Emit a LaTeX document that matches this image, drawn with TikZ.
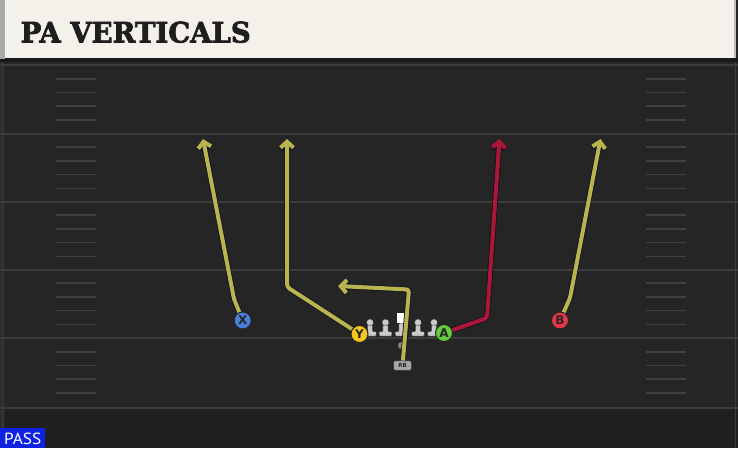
\documentclass[tikz,border=0pt]{standalone}
\usepackage{fontspec}
\setmainfont{DejaVu Sans}
\newfontfamily\titlefont{DejaVu Serif}[BoldFeatures={FakeBold=2.5}]
\newfontfamily\passfont{PT Sans}
\usetikzlibrary{arrows.meta}
\definecolor{bg}{RGB}{37,37,37}
\definecolor{bgdark}{RGB}{31,31,31}
\definecolor{stripc}{RGB}{44,44,44}
\definecolor{yardc}{RGB}{60,60,60}
\definecolor{hashc}{RGB}{64,64,64}
\definecolor{beige}{RGB}{244,241,234}
\definecolor{headgray}{RGB}{168,170,166}
\definecolor{titlec}{RGB}{30,30,30}
\definecolor{passblue}{RGB}{14,34,226}
\definecolor{routey}{RGB}{184,181,80}
\definecolor{router}{RGB}{172,22,56}
\definecolor{routeline}{RGB}{18,18,28}
\definecolor{xblue}{RGB}{72,128,218}
\definecolor{yyel}{RGB}{246,198,32}
\definecolor{agreen}{RGB}{96,204,62}
\definecolor{bred}{RGB}{226,56,72}
\definecolor{linec}{RGB}{202,202,202}
\tikzset{
  yardline/.style={draw=yardc, line width=2pt},
  hashline/.style={draw=hashc, line width=1.6pt},
  route/.style={line width=4pt, draw=routey, rounded corners=3pt,
    -{Straight Barb[length=6pt,width=13pt]},
    preaction={draw=routeline, line width=5.6pt}},
  player/.style={circle, draw=black!85, line width=1pt, minimum size=17pt,
    inner sep=0pt, font=\bfseries\fontsize{12}{12}\selectfont, text=black!85},
  olman/.pic={
    \fill[linec, draw=black!80, line width=0.5pt] (0,-13.5) circle (3.6);
    \fill[linec, draw=black!80, line width=0.5pt, rounded corners=0.8pt]
      (-2.6,-11) -- (2.6,-11) -- (2.6,-4.5) -- (6.3,-4.5) -- (6.3,0) -- (-6.3,0) -- (-6.3,-4.5) -- (-2.6,-4.5) -- cycle;
  },
  ocenter/.pic={
    \fill[linec, draw=black!80, line width=0.5pt, rounded corners=0.8pt]
      (-2.6,-13) -- (2.6,-13) -- (2.6,-4.5) -- (6.3,-4.5) -- (6.3,0) -- (-6.3,0) -- (-6.3,-4.5) -- (-2.6,-4.5) -- cycle;
    \fill[white] (-4.7,-23) rectangle (4.7,-13.5);
  }
}
\begin{document}
\begin{tikzpicture}[x=1pt,y=-1pt]
\useasboundingbox (0,0) rectangle (738,448);
% field
\fill[bg] (0,0) rectangle (738,448);
\fill[bgdark] (0,408) rectangle (738,448);
\fill[stripc] (0,58) rectangle (5,448);
\draw[yardc, line width=1pt] (2.5,58) -- (2.5,448);
\draw[yardc, line width=1pt] (735.5,58) -- (735.5,448);
\foreach \y in {65,133.5,201.5,269.5,338,408}
  \draw[yardline] (0,\y) -- (738,\y);
\foreach \s in {65,133.5,201.5,269.5,338}{
  \foreach \k in {1,2,3,4}{
    \pgfmathsetmacro\hy{\s+13.7*\k}
    \draw[hashline] (56,\hy) -- (96,\hy);
    \draw[hashline] (646,\hy) -- (686,\hy);
  }
}
% header
\fill[black!90] (0,58) rectangle (738,62);
\fill[headgray] (0,0) rectangle (5,59);
\fill[beige] (5,0) rectangle (734,58);
\fill[black!25] (734,0) rectangle (735.5,58);
\node[anchor=base west, inner sep=0pt, text=titlec] (title) at (20.5,42.5)
  {\resizebox{230pt}{21pt}{\titlefont\bfseries PA VERTICALS}};
% pass label
\fill[passblue] (0,428) rectangle (45,448);
\node[anchor=base west, inner sep=0pt, text=white] (pass) at (4,444.5)
  {\resizebox{37pt}{11.5pt}{\passfont PASS}};
% offensive line
\pic (lt) at (370,336) {olman};
\pic (lg) at (385.5,336) {olman};
\pic (ctr) at (401.5,336) {ocenter};
\pic (rg) at (418,336) {olman};
\pic (rt) at (434,336) {olman};
% QB
\node[circle, fill=black!48, minimum size=7pt, inner sep=0pt] (QB) at (401.5,345.5) {};
% coordinates of routes
\coordinate (xb) at (234,299);
\coordinate (xe) at (203,139);
\coordinate (yb) at (287,287);
\coordinate (ye) at (287,139);
\coordinate (ab) at (487,318);
\coordinate (ae) at (499.5,139);
\coordinate (bb) at (570,298);
\coordinate (be) at (600.5,139);
\coordinate (rbb) at (409,289.5);
\coordinate (rbe) at (338,286);
\coordinate (Xc) at (242.7,320.5);
\coordinate (Yc) at (359.5,334);
\coordinate (Ac) at (444,333);
\coordinate (Bc) at (560,320.5);
\coordinate (RBc) at (402.5,365.5);
% routes
\draw[route] (Xc) -- (xb) -- (xe);
\draw[route] (Yc) -- (yb) -- (ye);
\draw[route, draw=router] (Ac) -- (ab) -- (ae);
\draw[route] (Bc) -- (bb) -- (be);
\draw[route] (RBc) -- (rbb) -- (rbe);
% players
\node[player, fill=xblue] (X) at (Xc) {X};
\node[player, fill=yyel] (Y) at (Yc) {Y};
\node[player, fill=agreen] (A) at (Ac) {A};
\node[player, fill=bred] (B) at (Bc) {B};
\node[rounded corners=2pt, fill=black!35, draw=black!80, line width=0.5pt,
  minimum width=18pt, minimum height=9.5pt, inner sep=0pt,
  font=\bfseries\fontsize{5.5}{5.5}\selectfont, text=black!85] (RB) at (RBc) {RB};
\end{tikzpicture}
\end{document}
